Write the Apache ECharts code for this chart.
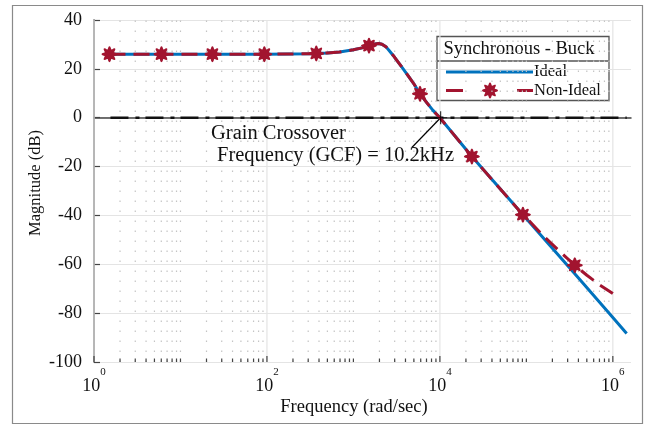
<!DOCTYPE html>
<html>
<head>
<meta charset="utf-8">
<script src="https://cdn.jsdelivr.net/npm/echarts@6/dist/echarts.min.js"></script>
<style>
  html, body { margin: 0; padding: 0; background: #fff; }
  #chart { width: 649px; height: 427px; }
</style>
</head>
<body>
<div id="chart"></div>
<script>
// Bode magnitude of the synchronous buck converter (frequency in rad/s, magnitude in dB)
const idealFreq = [1.41, 10, 100, 316, 501, 692, 1000, 1259, 1514, 1778, 1950, 2138, 2399, 2630, 2884, 3162, 3548, 3981, 4467, 5012, 5888, 7079, 8318, 10000, 23440, 91200, 363000, 1000000, 1445000];
const idealMag  = [26.0, 26.0, 26.0, 26.2, 26.5, 26.9, 27.8, 28.6, 29.5, 30.2, 30.4, 30.1, 28.9, 27.2, 25.5, 23.6, 21.2, 18.8, 16.3, 13.8, 9.8, 6.1, 3.0, 0.0, -15.9, -39.7, -63.9, -81.8, -88.3];

const nonIdealFreq = [1.51, 6.03, 23.4, 93.3, 316, 372, 501, 692, 1000, 1259, 1514, 1778, 1950, 2138, 2399, 2630, 2884, 3162, 3548, 3981, 4467, 5012, 5888, 7079, 8318, 10000, 23440, 91200, 100000, 158500, 251200, 363000, 501200, 707900, 1000000];
const nonIdealMag  = [26.0, 26.0, 26.0, 26.0, 26.2, 26.3, 26.5, 26.9, 27.8, 28.6, 29.5, 30.2, 30.4, 30.1, 28.9, 27.2, 25.5, 23.6, 21.2, 18.8, 16.3, 13.8, 9.8, 6.1, 3.0, 0.0, -15.9, -39.7, -41.0, -48.5, -55.2, -60.4, -64.5, -68.5, -72.0];

// Marker positions along the non-ideal trace
const markerFreq = [1.51, 6.03, 23.4, 93.3, 372, 1514, 5888, 23440, 91200, 363000];
const markerMag  = [26.0, 26.0, 26.0, 26.0, 26.3, 29.5, 9.8, -15.9, -39.7, -60.4];

// 0 dB reference line
const zeroFreq = [1.55, 1445000];
const zeroMag  = [0, 0];

// Gain crossover point and the start of its callout line
const gcfFreq = 10200;
const gcfMag = 0;
const calloutFreq = 4740;
const calloutMag = -12.2;

// Axis settings
const xDecadeMin = 0, xDecadeMax = 6.21;
const xLabelDecades = [0, 2, 4, 6];
const yMin = -100, yMax = 40, yStep = 20;

const SERIF = '"Liberation Serif", "Times New Roman", serif';
const BLUE = '#0072BD';
const RED = '#A2142F';

const lg = f => Math.log10(f);
const pairs = (fs, ms) => fs.map((f, i) => [lg(f), ms[i]]);

// Flower-shaped marker outline
function flowerPoints(cx, cy, r) {
  const pts = [];
  for (let i = 0; i < 72; i++) {
    const t = i / 72 * Math.PI * 2;
    const rr = r * (0.82 + 0.18 * Math.cos(8 * t));
    pts.push([cx + rr * Math.cos(t), cy + rr * Math.sin(t)]);
  }
  return pts;
}
const flowerSymbol = 'path://' + flowerPoints(0, 0, 10)
  .map((p, i) => (i ? 'L' : 'M') + p[0].toFixed(2) + ' ' + p[1].toFixed(2)).join(' ') + ' Z';
const crossSymbol = 'path://M -0.9 -10 L 0.9 -10 L 0.9 -0.9 L 10 -0.9 L 10 0.9 L 0.9 0.9 L 0.9 10 L -0.9 10 L -0.9 0.9 L -10 0.9 L -10 -0.9 L -0.9 -0.9 Z';

// Log-frequency grid: solid lines at labelled decades, dotted elsewhere
const gridLines = [];
for (let d = 0; d <= 6; d++) {
  gridLines.push([d, xLabelDecades.indexOf(d) >= 0 ? 1 : 0]);
  for (let k = 2; k <= 9; k++) {
    const v = d + Math.log10(k);
    if (v <= xDecadeMax) gridLines.push([v, 0]);
  }
}

const chart = echarts.init(document.getElementById('chart'), null, { renderer: 'canvas' });

const option = {
  backgroundColor: '#fff',
  animation: false,
  grid: { left: 94, right: 18, top: 20, bottom: 65, outerBoundsMode: 'none' },
  xAxis: {
    type: 'value',
    min: xDecadeMin,
    max: xDecadeMax,
    interval: 2,
    name: 'Frequency (rad/sec)',
    nameLocation: 'middle',
    nameGap: 36,
    nameMoveOverlap: false,
    nameTextStyle: { fontFamily: SERIF, fontSize: 18.5, color: '#111', padding: [0, 17, 0, 0] },
    axisLine: { show: true, lineStyle: { color: '#444', width: 1.5 } },
    axisTick: { show: false },
    splitLine: { show: false },
    axisLabel: {
      margin: 5,
      showMaxLabel: false,
      formatter: v => '{b|10}{s|' + Math.round(v) + '}',
      rich: {
        b: { fontFamily: SERIF, fontSize: 18, color: '#111', lineHeight: 28, verticalAlign: 'bottom' },
        s: { fontFamily: SERIF, fontSize: 11, color: '#111', lineHeight: 11, verticalAlign: 'top' }
      }
    }
  },
  yAxis: {
    type: 'value',
    min: yMin,
    max: yMax,
    interval: yStep,
    name: 'Magnitude (dB)',
    nameLocation: 'middle',
    nameGap: 50,
    nameRotate: 90,
    nameMoveOverlap: false,
    nameTextStyle: { fontFamily: SERIF, fontSize: 16.5, color: '#111', padding: [0, 0, 0, 16] },
    axisLine: { show: true, lineStyle: { color: '#444', width: 1.5 } },
    axisTick: { show: true, inside: true, length: 6, lineStyle: { color: '#444', width: 1.2 } },
    splitLine: { show: true, lineStyle: { color: '#e4e4e4', width: 1.2 } },
    axisLabel: { margin: 12, fontFamily: SERIF, fontSize: 18, color: '#111' }
  },
  graphic: [
    // outer frame
    { type: 'rect', left: 10, top: 3, shape: { width: 630, height: 418 }, style: { fill: 'none', stroke: '#8a8a8a', lineWidth: 1.2 }, silent: true, z: 0 },
    // legend box
    {
      type: 'group', left: 0, top: 0, z: 100, silent: true, bounding: 'raw',
      children: [
        { type: 'rect', shape: { x: 437, y: 36.5, width: 172, height: 64 }, style: { fill: '#fff', stroke: '#555', lineWidth: 1.3 } },
        { type: 'line', shape: { x1: 437, y1: 61, x2: 609, y2: 61 }, style: { stroke: '#555', lineWidth: 1.3 } },
        { type: 'text', x: 519, y: 49, style: { text: 'Synchronous - Buck', font: '18.5px ' + SERIF, fill: '#111', align: 'center', verticalAlign: 'middle' } },
        { type: 'line', shape: { x1: 446, y1: 72, x2: 533, y2: 72 }, style: { stroke: BLUE, lineWidth: 3 } },
        { type: 'text', x: 534, y: 71.5, style: { text: 'Ideal', font: '16.5px ' + SERIF, fill: '#111', align: 'left', verticalAlign: 'middle' } },
        { type: 'line', shape: { x1: 446, y1: 90.5, x2: 463, y2: 90.5 }, style: { stroke: RED, lineWidth: 3 } },
        { type: 'line', shape: { x1: 517, y1: 90.5, x2: 533, y2: 90.5 }, style: { stroke: RED, lineWidth: 3 } },
        { type: 'polygon', shape: { points: flowerPoints(490, 90.5, 8) }, style: { fill: RED } },
        { type: 'text', x: 534, y: 90.5, style: { text: 'Non-Ideal', font: '16.5px ' + SERIF, fill: '#111', align: 'left', verticalAlign: 'middle' } }
      ]
    },
    // crossover annotation
    { type: 'text', left: 211, top: 123, z: 60, silent: true, style: { text: 'Grain Crossover', font: '20.5px ' + SERIF, fill: '#111' } },
    { type: 'text', left: 217, top: 145, z: 60, silent: true, style: { text: 'Frequency (GCF) = 10.2kHz', font: '20.5px ' + SERIF, fill: '#111' } }
  ],
  series: [
    {
      // frequency grid and ticks on the log axis
      type: 'custom',
      silent: true,
      z: 1,
      clip: false,
      data: gridLines,
      renderItem: (params, api) => {
        const x = api.value(0);
        const major = api.value(1) === 1;
        const top = api.coord([x, yMax]);
        const bot = api.coord([x, yMin]);
        return {
          type: 'group',
          children: [
            {
              type: 'line',
              shape: { x1: bot[0], y1: bot[1], x2: top[0], y2: top[1] },
              style: major
                ? { stroke: '#e4e4e4', lineWidth: 1.2 }
                : { stroke: '#c4c4c4', lineWidth: 1.2, lineDash: [1.6, 8.4] }
            },
            {
              type: 'line',
              shape: { x1: bot[0], y1: bot[1], x2: bot[0], y2: bot[1] - (major ? 6 : 3.5) },
              style: { stroke: '#444', lineWidth: 1.2 }
            }
          ]
        };
      }
    },
    {
      name: 'Zero dB',
      type: 'line',
      data: pairs(zeroFreq, zeroMag),
      showSymbol: false,
      silent: true,
      z: 3,
      lineStyle: { color: '#111', width: 2.6, type: [18, 7, 4, 6], cap: 'butt' }
    },
    {
      name: 'Ideal',
      type: 'line',
      data: pairs(idealFreq, idealMag),
      showSymbol: false,
      z: 4,
      lineStyle: { color: BLUE, width: 3, join: 'round' }
    },
    {
      name: 'Non-Ideal',
      type: 'line',
      data: pairs(nonIdealFreq, nonIdealMag),
      showSymbol: false,
      z: 5,
      lineStyle: { color: RED, width: 3, type: [16, 8], cap: 'butt', join: 'round' }
    },
    {
      name: 'Non-Ideal markers',
      type: 'scatter',
      data: pairs(markerFreq, markerMag),
      symbol: flowerSymbol,
      symbolSize: 16,
      z: 6,
      itemStyle: { color: RED, opacity: 1 }
    },
    {
      name: 'GCF',
      type: 'scatter',
      data: [[lg(gcfFreq), gcfMag]],
      symbol: crossSymbol,
      symbolSize: 13,
      z: 7,
      itemStyle: { color: '#000' },
      markLine: {
        silent: true,
        symbol: ['none', 'none'],
        label: { show: false },
        lineStyle: { color: '#000', width: 1.2, type: 'solid' },
        data: [[{ coord: [lg(calloutFreq), calloutMag] }, { coord: [lg(gcfFreq), gcfMag] }]]
      }
    }
  ]
};

chart.setOption(option);
</script>
</body>
</html>
